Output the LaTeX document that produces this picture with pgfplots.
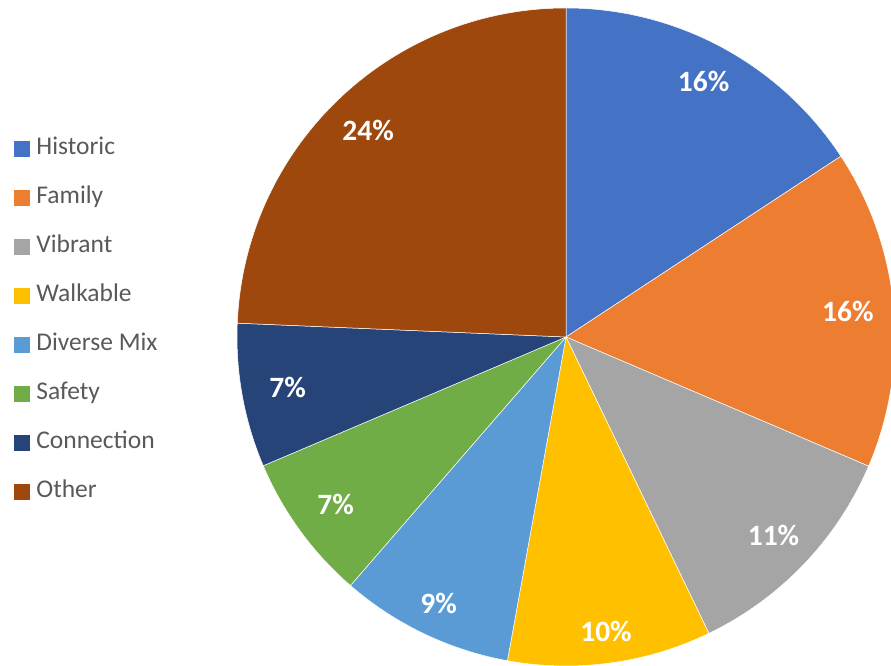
\documentclass[border=0pt]{standalone}
\usepackage{pgfplots}
\pgfplotsset{compat=1.18}
\usepackage{pgfplotstable}
\usepackage{fontspec}
\setmainfont{Carlito}
\definecolor{cHist}{HTML}{4472C4}
\definecolor{cFam}{HTML}{ED7D31}
\definecolor{cVib}{HTML}{A5A5A5}
\definecolor{cWalk}{HTML}{FFC000}
\definecolor{cDiv}{HTML}{5B9BD5}
\definecolor{cSaf}{HTML}{70AD47}
\definecolor{cCon}{HTML}{264478}
\definecolor{cOth}{HTML}{9E480E}
\definecolor{legtext}{HTML}{595959}
% value = share in percent; lr = distance of the data label from the centre
\pgfplotstableread{
label value color lr
Historic 15.74 cHist 290
Family 15.68 cFam 283
Vibrant 11.43 cVib 287
Walkable 10.00 cWalk 297
{Diverse Mix} 8.52 cDiv 295
Safety 7.23 cSaf 285
Connection 7.07 cCon 283
Other 24.33 cOth 286
}\piedata
\begin{document}
\begin{tikzpicture}
\begin{axis}[
  scale only axis, width=891pt, height=666pt,
  xmin=0, xmax=891, ymin=0, ymax=666,
  hide axis, clip=true,
  legend cell align=left,
  legend image code/.code={\fill[#1] (0pt,-7.5pt) rectangle (15pt,7.5pt);},
  legend style={draw=none, fill=none, inner sep=0pt, outer sep=0pt,
    at={(axis cs:14,345.5)}, anchor=west,
    font=\fontsize{25.5}{27}\selectfont, text=legtext,
    row sep=27pt,
    nodes={inner sep=0pt, text height=17pt, text depth=5pt},
    /tikz/every odd column/.style={column sep=7pt}},
]
\def\cum{0}
\pgfplotstablegetrowsof{\piedata}
\pgfmathtruncatemacro\N{\pgfplotsretval-1}
\pgfplotsforeachungrouped \i in {0,...,\N}{%
  \pgfplotstablegetelem{\i}{value}\of\piedata \let\v\pgfplotsretval
  \pgfplotstablegetelem{\i}{color}\of\piedata \let\col\pgfplotsretval
  \pgfplotstablegetelem{\i}{lr}\of\piedata \let\lr\pgfplotsretval
  \pgfmathsetmacro\sa{90-3.6*\cum}
  \pgfmathsetmacro\ea{90-3.6*(\cum+\v)}
  \pgfmathsetmacro\ma{(\sa+\ea)/2}
  \pgfmathsetmacro\cum{\cum+\v}
  \pgfmathtruncatemacro\pct{round(\v)}
  \edef\temp{%
    \noexpand\fill[\col, draw=white, line width=0.5pt] (axis cs:566,329) -- ++(\sa:329pt) arc[start angle=\sa, end angle=\ea, radius=329pt] -- cycle;
    \noexpand\node[white, font=\noexpand\bfseries\noexpand\fontsize{29.5}{31}\noexpand\selectfont, shift={(\ma:\lr pt)}] at (axis cs:566,329) {\pct\noexpand\%};
  }%
  \temp
}
\addlegendimage{cHist}\addlegendentry{Historic}
\addlegendimage{cFam}\addlegendentry{Family}
\addlegendimage{cVib}\addlegendentry{Vibrant}
\addlegendimage{cWalk}\addlegendentry{Walkable}
\addlegendimage{cDiv}\addlegendentry{Diverse Mix}
\addlegendimage{cSaf}\addlegendentry{Safety}
\addlegendimage{cCon}\addlegendentry{Connection}
\addlegendimage{cOth}\addlegendentry{Other}
\end{axis}
\pgfresetboundingbox
\path[use as bounding box] (0,0) rectangle (891pt,666pt);
\end{tikzpicture}
\end{document}
